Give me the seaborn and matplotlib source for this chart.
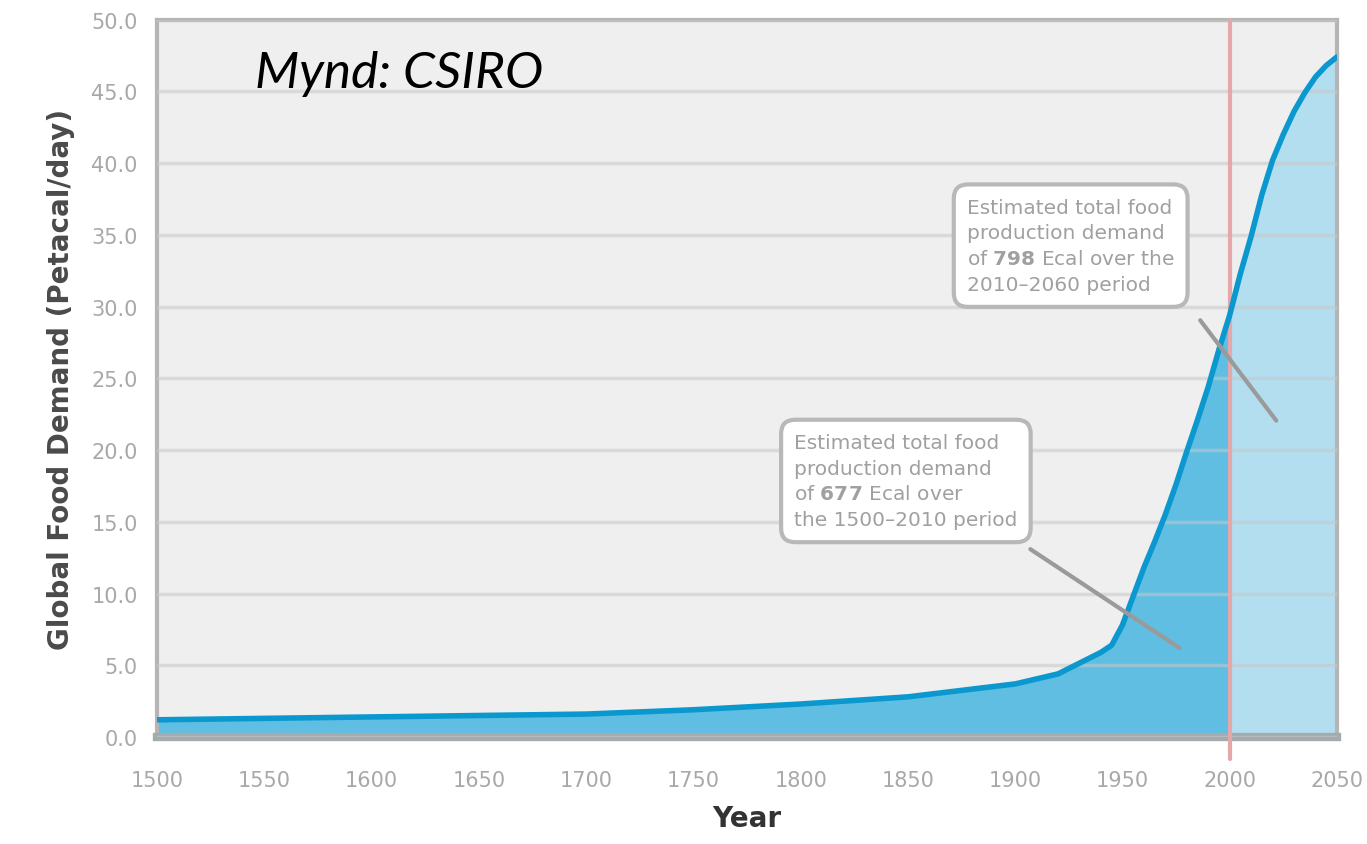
import matplotlib.pyplot as plt
import pandas as pd
import seaborn as sns

# Data
years = [1500, 1550, 1600, 1650, 1700, 1750, 1800, 1850, 1900, 1920, 1940, 1945,
         1950, 1955, 1960, 1965, 1970, 1975, 1980, 1985, 1990, 1995, 2000, 2005,
         2010, 2015, 2020, 2025, 2030, 2035, 2040, 2045, 2050]
demand = [1.2, 1.3, 1.4, 1.5, 1.6, 1.9, 2.3, 2.8, 3.7, 4.4, 5.9, 6.4,
          7.8, 9.8, 11.8, 13.6, 15.5, 17.6, 19.9, 22.1, 24.4, 27.0, 29.4, 32.3,
          34.9, 37.8, 40.2, 42.0, 43.6, 44.9, 46.0, 46.8, 47.4]
x_ticks = list(range(1500, 2051, 50))
y_ticks = [0, 5, 10, 15, 20, 25, 30, 35, 40, 45, 50]
split_year = 2000

note_past = ["Estimated total food", "production demand",
             r"of $\mathbf{677}$ Ecal over", "the 1500–2010 period"]
note_future = ["Estimated total food", "production demand",
               r"of $\mathbf{798}$ Ecal over the", "2010–2060 period"]

df = pd.DataFrame({'year': years, 'demand': demand})
past = df[df['year'] <= split_year]
future = df[df['year'] >= split_year]

sns.set_style('white', {'axes.facecolor': '#efefef'})
plt.rcParams['font.family'] = ['DejaVu Sans']

fig = plt.figure(figsize=(13.67, 8.45), dpi=100)
ax = fig.add_axes([0.1149, 0.1266, 0.8631, 0.849])

ax.fill_between(past['year'], 0, past['demand'], color='#5fbee2', zorder=1, linewidth=0)
ax.fill_between(future['year'], 0, future['demand'], color='#b2def0', zorder=1, linewidth=0)

sns.lineplot(data=df, x='year', y='demand', ax=ax, color='#0b98cf',
             linewidth=4, zorder=4)

ax.set_xlim(1500, 2050)
ax.set_ylim(0, 50)
ax.set_xticks(x_ticks)
ax.set_yticks(y_ticks)
ax.set_xticklabels([str(v) for v in x_ticks], color='#a8a8a8', fontsize=15)
ax.set_yticklabels([f'{v:.1f}' for v in y_ticks], color='#a8a8a8', fontsize=15)
ax.tick_params(axis='x', direction='out', length=10, width=2, color='#d8d8d8', pad=14)
ax.tick_params(axis='y', direction='in', length=4, width=2, color='#c0c0c0', pad=14)

ax.yaxis.grid(True, color='#c8c8c8', linewidth=2.5, alpha=0.55)
ax.set_axisbelow(False)

for side in ['top', 'right', 'left']:
    ax.spines[side].set_color('#b5b5b5')
    ax.spines[side].set_linewidth(3)
ax.spines['bottom'].set_color('#a3abae')
ax.spines['bottom'].set_linewidth(6)

ax.axvline(split_year, ymin=-0.03, ymax=1, color='#e4a7aa', linewidth=3,
           zorder=3, clip_on=False)

ax.set_xlabel('Year', fontsize=20, fontweight='bold', color='#333333', labelpad=10)
ax.set_ylabel('Global Food Demand (Petacal/day)', fontsize=20, fontweight='bold',
              color='#4a4a4a', labelpad=12)

ax.text(0.083, 0.925, 'Mynd: CSIRO', transform=ax.transAxes, fontsize=37,
        style='italic', family=['Lato', 'DejaVu Sans'], color='black',
        ha='left', va='center', zorder=6)

box = dict(boxstyle='round,pad=0.65,rounding_size=0.7', facecolor='white',
           edgecolor='#b8b8b8', linewidth=3)

ax.annotate('', xy=(1977.7, 6.1), xytext=(1906.0, 13.2),
            arrowprops=dict(arrowstyle='-', color='#9a9a9a', linewidth=3), zorder=5)
ax.annotate('', xy=(2022.5, 21.9), xytext=(1985.5, 29.2),
            arrowprops=dict(arrowstyle='-', color='#9a9a9a', linewidth=3), zorder=5)

ax.text(1797.0, 21.2, '\n'.join(note_past), fontsize=14.5, color='#a0a0a0',
        ha='left', va='top', linespacing=1.45, bbox=box, zorder=6)
ax.text(1877.5, 37.6, '\n'.join(note_future), fontsize=14.5, color='#a0a0a0',
        ha='left', va='top', linespacing=1.45, bbox=box, zorder=6)

fig.savefig('out.png', dpi=100)
